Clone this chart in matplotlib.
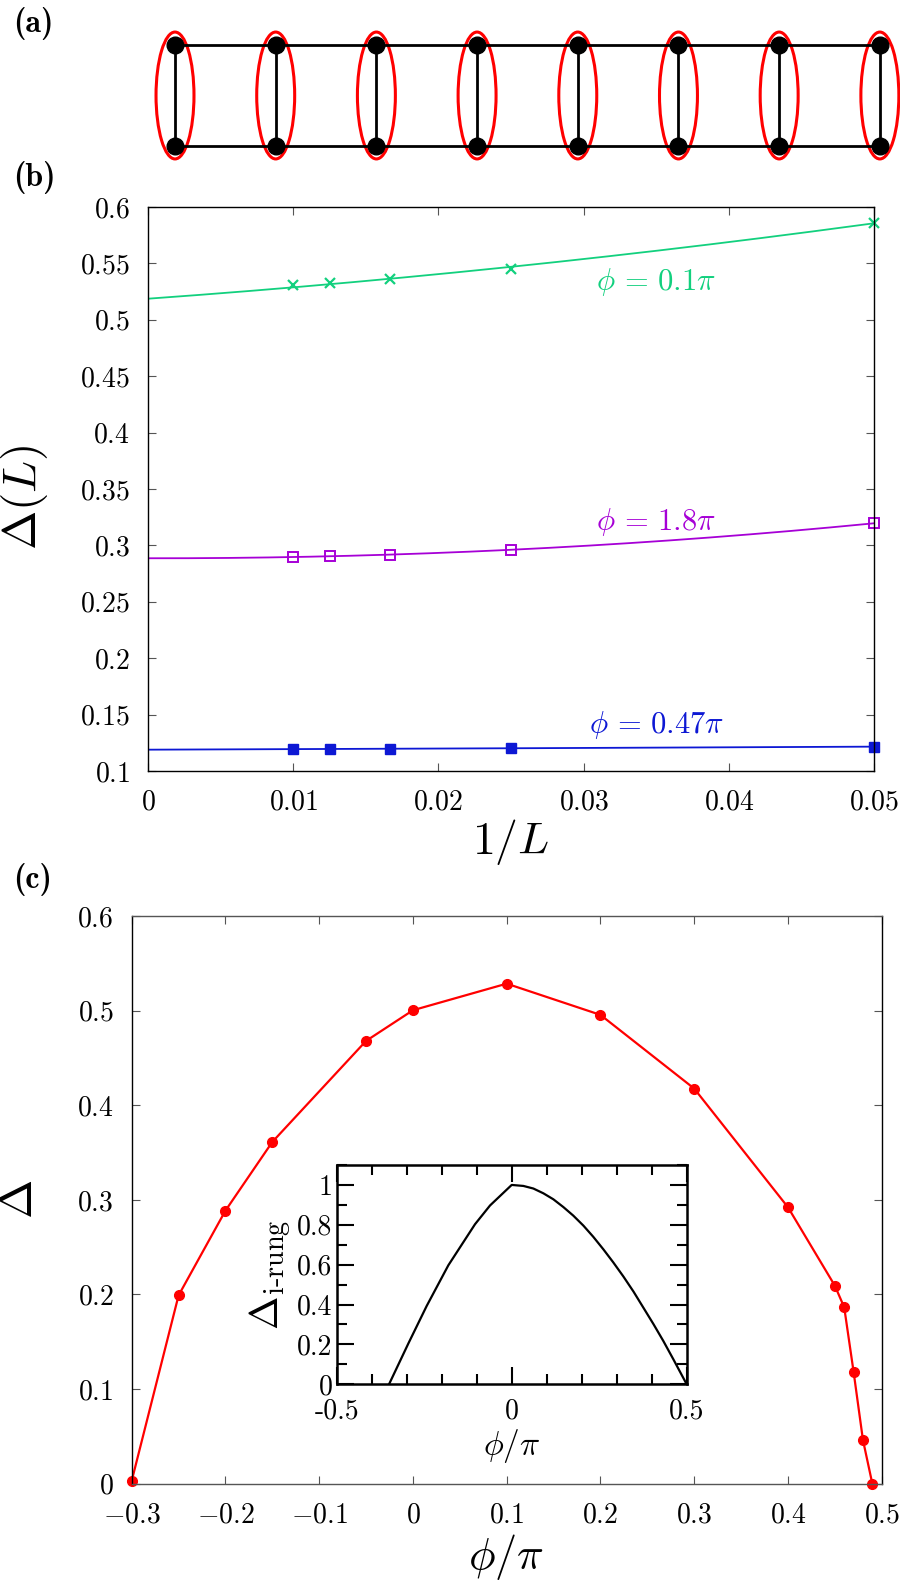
import numpy as np
import matplotlib
matplotlib.use("Agg")
import matplotlib.pyplot as plt
from matplotlib.patches import Ellipse
from matplotlib.ticker import FuncFormatter, MultipleLocator

plt.rcParams["font.family"] = "cmr10"
plt.rcParams["mathtext.fontset"] = "cm"
plt.rcParams["axes.unicode_minus"] = False
plt.rcParams["axes.formatter.use_mathtext"] = True

# (a) ladder: number of rungs
n_rungs = 8

# (b) gap vs 1/L for three fluxes
inv_L = [0.01, 0.0125, 1 / 60, 0.025, 0.05]
gap_01 = [0.531, 0.533, 0.536, 0.5448, 0.586]
gap_18 = [0.2897, 0.2903, 0.2918, 0.2962, 0.3196]
gap_047 = [0.1195, 0.1195, 0.1197, 0.1201, 0.1216]
# extrapolated values (1/L -> 0)
gap_inf = [0.5187, 0.2886, 0.1189]

# (c) extrapolated gap vs phi/pi
phi = [-0.3, -0.25, -0.2, -0.15, -0.05, 0.0, 0.1, 0.2, 0.3, 0.4,
       0.45, 0.46, 0.47, 0.48, 0.49]
gap = [0.003, 0.199, 0.2886, 0.3612, 0.468, 0.5004, 0.5285, 0.4955, 0.4176,
       0.2922, 0.2093, 0.1865, 0.1184, 0.0462, 0.0]

# inset: isolated-rung gap
phi_rung = [-0.3505, -0.2952, -0.2429, -0.181, -0.1048, -0.0619, 0.0,
            0.0333, 0.0619, 0.0905, 0.119, 0.1476, 0.176, 0.2048, 0.233,
            0.2619, 0.290, 0.319, 0.348, 0.376, 0.405, 0.433, 0.462, 0.5]
gap_rung = [0.0, 0.205, 0.393, 0.597, 0.803, 0.897, 1.0,
            0.995, 0.982, 0.958, 0.928, 0.889, 0.846, 0.796, 0.740,
            0.677, 0.612, 0.541, 0.465, 0.385, 0.302, 0.218, 0.125, 0.0]

W, H = 900, 1584
fig = plt.figure(figsize=(9, 15.84), dpi=100)


def fx(px):
    return px / W


def fy(py):
    return 1 - py / H


def gfmt(v, pos):
    return "$%g$" % round(v, 4)


# ---------- (a) ----------
ax_a = fig.add_axes([0, fy(170), 1, 170 / H])
ax_a.set_xlim(-1.738, 7.2)
ax_a.set_ylim(-0.238, 1.446)
ax_a.axis("off")
rx = np.arange(n_rungs)
ax_a.plot([rx[0], rx[-1]], [1, 1], color="k", lw=2)
ax_a.plot([rx[0], rx[-1]], [0, 0], color="k", lw=2)
for x in rx:
    ax_a.plot([x, x], [0, 1], color="k", lw=2)
    ax_a.add_patch(Ellipse((x, 0.5), 0.377, 1.257, fill=False, ec="red", lw=2.2))
ax_a.plot(rx, np.ones(n_rungs), "o", color="k", ms=12, zorder=3)
ax_a.plot(rx, np.zeros(n_rungs), "o", color="k", ms=12, zorder=3)

# ---------- (b) ----------
ax_b = fig.add_axes([fx(148), fy(771), (874 - 148) / W, (771 - 207) / H])
series = [
    (gap_01, gap_inf[0], "#12d07e", "x", dict(ms=7, mew=1.6), r"$\phi\, =\, 0.1\pi$", 0.5335),
    (gap_18, gap_inf[1], "#a600d6", "s", dict(ms=7, mew=1.4, mfc="none"), r"$\phi\, =\, 1.8\pi$", 0.3207),
    (gap_047, gap_inf[2], "#0d18d4", "s", dict(ms=6.5, mew=1.0), r"$\phi\, =\, 0.47\pi$", 0.1408),
]
xx = np.linspace(0, 0.05, 200)
xa = np.array(inv_L)
for ys, y0, col, mk, kw, lab, ty in series:
    # quadratic fit with the intercept fixed at the extrapolated value
    A = np.column_stack([xa, xa ** 2])
    b, c = np.linalg.lstsq(A, np.array(ys) - y0, rcond=None)[0]
    ax_b.plot(xx, y0 + b * xx + c * xx ** 2, color=col, lw=1.3)
    ax_b.plot(inv_L, ys, ls="none", marker=mk, color=col, clip_on=False, **kw)
    ax_b.text(0.035, ty, lab, color=col, fontsize=22, ha="center", va="center")
ax_b.set_xlim(0, 0.05)
ax_b.set_ylim(0.1, 0.6)
ax_b.set_xticks([0, 0.01, 0.02, 0.03, 0.04, 0.05])
ax_b.set_yticks(np.arange(0.1, 0.601, 0.05))
ax_b.xaxis.set_major_formatter(FuncFormatter(gfmt))
ax_b.yaxis.set_major_formatter(FuncFormatter(gfmt))

# ---------- (c) ----------
ax_c = fig.add_axes([fx(131.7), fy(1483.7), (881.7 - 131.7) / W, (1483.7 - 916) / H])
ax_c.plot(phi, gap, "-o", color="red", lw=1.6, ms=7, clip_on=False)
ax_c.set_xlim(-0.3, 0.5)
ax_c.set_ylim(0, 0.6)
ax_c.set_xticks(np.arange(-0.3, 0.501, 0.1))
ax_c.set_yticks(np.arange(0, 0.601, 0.1))
ax_c.xaxis.set_major_formatter(FuncFormatter(gfmt))
ax_c.yaxis.set_major_formatter(FuncFormatter(gfmt))
ax_c.spines["top"].set_color("#555555")
ax_c.spines["bottom"].set_color("#555555")

for ax in (ax_b, ax_c):
    ax.tick_params(direction="in", top=True, right=True, length=6, width=0.8,
                   color="#555555", labelsize=20, pad=13)
    for s in ax.spines.values():
        s.set_linewidth(1.0)

# ---------- inset ----------
ax_in = fig.add_axes([fx(336.7), fy(1384.3), (686.7 - 336.7) / W, (1384.3 - 1165) / H])
ax_in.plot(phi_rung, gap_rung, color="k", lw=1.6)
ax_in.set_xlim(-0.5, 0.5)
ax_in.set_ylim(0, 1.1)
ax_in.set_xticks([-0.5, 0, 0.5])
ax_in.set_xticklabels(["-0.5", "0", "0.5"])
ax_in.xaxis.set_minor_locator(MultipleLocator(0.1))
ax_in.set_yticks([0, 0.2, 0.4, 0.6, 0.8, 1.0])
ax_in.set_yticklabels(["0", "0.2", "0.4", "0.6", "0.8", "1"])
ax_in.yaxis.set_minor_locator(MultipleLocator(0.1))
ax_in.tick_params(which="both", direction="in", top=True, right=True, width=1.5)
ax_in.tick_params(which="major", length=12, labelsize=20)
ax_in.tick_params(which="minor", length=7)
ax_in.tick_params(axis="x", which="major", pad=10)
ax_in.tick_params(axis="y", which="major", pad=3)
for s in ax_in.spines.values():
    s.set_linewidth(1.8)
ax_in.set_xlabel(r"$\phi/\pi$", fontsize=24, labelpad=2)
ax_in.set_ylabel(r"$\Delta_{\text{i-rung}}$", fontsize=29, labelpad=2)

# ---------- labels ----------
fig.text(fx(25), fy(497), r"$\Delta(L)$", fontsize=34, rotation=90, ha="center", va="center")
fig.text(fx(511), fy(842), r"$1/L$", fontsize=33, ha="center", va="center")
fig.text(fx(20), fy(1199), r"$\Delta$", fontsize=34, rotation=90, ha="center", va="center")
fig.text(fx(506), fy(1557), r"$\phi/\pi$", fontsize=32, ha="center", va="center")

for lab, y in (("(a)", 23), ("(b)", 178), ("(c)", 880)):
    fig.text(fx(13), fy(y), lab, fontsize=23, family="cmb10", ha="left", va="center")

fig.savefig("out.png", dpi=100)
